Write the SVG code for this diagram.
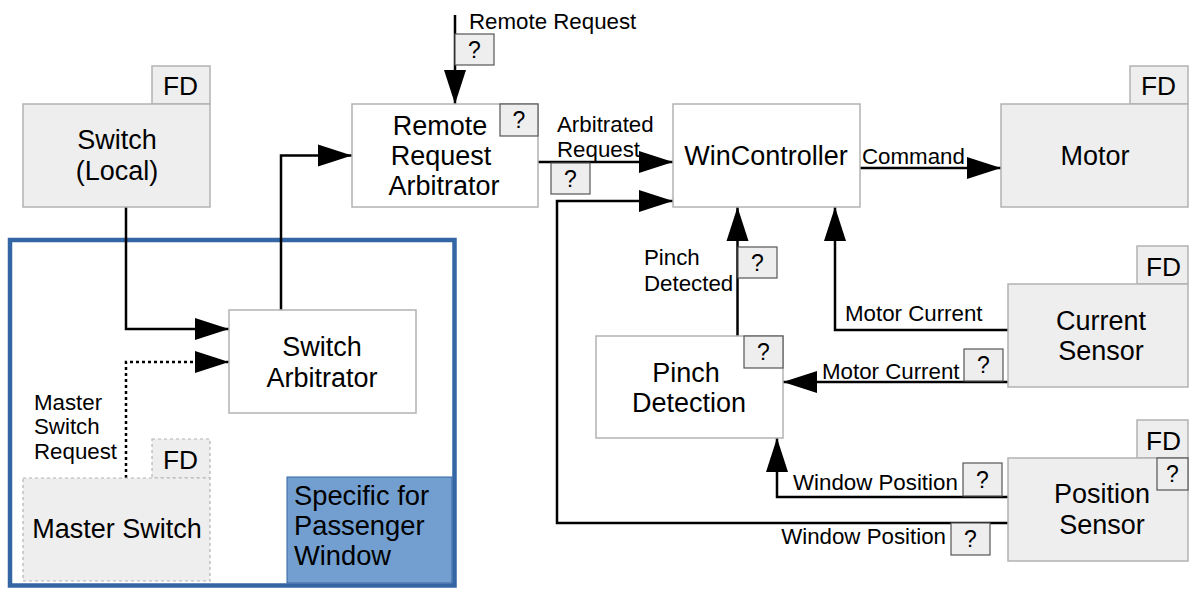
<svg xmlns="http://www.w3.org/2000/svg" width="1190" height="589" viewBox="0 0 1190 589">
  <style>
    text { font-family: "Liberation Sans", Arial, sans-serif; fill: #000; }
    .node { fill: #ffffff; stroke: #b3b3b3; stroke-width: 1.5; }
    .fd { fill: #eeeeee; stroke: #b3b3b3; stroke-width: 1.5; }
    .fd-dash { fill: #eeeeee; stroke: #b3b3b3; stroke-width: 1.2; stroke-dasharray: 3 3; }
    .q { fill: #eeeeee; stroke: #555555; stroke-width: 1.2; }
    .big { font-size: 27px; text-anchor: middle; }
    .tag { font-size: 26.3px; }
    .note { font-size: 27.3px; }
    .qt { font-size: 23px; text-anchor: middle; }
    .lbl { font-size: 22.3px; }
    .wire { fill: none; stroke: #000; stroke-width: 2.5; marker-end: url(#arrow); }
    .dotted { stroke-dasharray: 3 3; }
  </style>
  <defs>
    <marker id="arrow" markerUnits="userSpaceOnUse" markerWidth="34" markerHeight="22" refX="34" refY="11" orient="auto" overflow="visible">
      <path d="M0,0 L34,11 L0,22 Z" fill="#000" stroke="none"/>
    </marker>
  </defs>

  <!-- passenger-window frame -->
  <g id="passenger-frame">
    <rect x="10" y="240" width="444.5" height="345.5" fill="none" stroke="#3465a4" stroke-width="4.5"/>
    <rect x="287" y="477" width="165" height="106" fill="#729fcf" stroke="#3465a4" stroke-width="1"/>
    <text class="note" x="294" y="505">Specific for</text>
    <text class="note" x="294" y="535">Passenger</text>
    <text class="note" x="294" y="565">Window</text>
  </g>

  <!-- connectors -->
  <g id="connectors">
    <path class="wire" d="M126 207 V329 H229"/>
    <path class="wire dotted" d="M126 478 V362 H229"/>
    <path class="wire" d="M281 310 V155.5 H352"/>
    <path class="wire" d="M455 15 V104"/>
    <path class="wire" d="M538 162 H673"/>
    <path class="wire" d="M860 168 H1001"/>
    <path class="wire" d="M737.5 336 V207"/>
    <path class="wire" d="M1008 330 H835 V207"/>
    <path class="wire" d="M1008 382 H783"/>
    <path class="wire" d="M1008 497 H777 V438"/>
    <path class="wire" d="M1008 523 H557 V201 H673"/>

    <text class="lbl" x="469" y="29">Remote Request</text>
    <rect class="q" x="455" y="34" width="39" height="31"/>
    <text class="qt" x="474.5" y="58">?</text>

    <text class="lbl" x="557" y="132">Arbitrated</text>
    <text class="lbl" x="557" y="157">Request</text>
    <rect class="q" x="551" y="163" width="39" height="31"/>
    <text class="qt" x="570.5" y="187">?</text>

    <text class="lbl" x="862" y="164">Command</text>

    <text class="lbl" x="644" y="265">Pinch</text>
    <text class="lbl" x="644" y="291">Detected</text>
    <rect class="q" x="738" y="247" width="39" height="31"/>
    <text class="qt" x="757.5" y="271">?</text>

    <text class="lbl" x="845" y="321">Motor Current</text>

    <text class="lbl" x="822" y="379">Motor Current</text>
    <rect class="q" x="964" y="349" width="39" height="32"/>
    <text class="qt" x="983.5" y="373">?</text>

    <text class="lbl" x="793" y="490">Window Position</text>
    <rect class="q" x="963" y="463" width="39" height="33"/>
    <text class="qt" x="982.5" y="488">?</text>

    <text class="lbl" x="946" y="544" text-anchor="end">Window Position</text>
    <rect class="q" x="951" y="523" width="39" height="32"/>
    <text class="qt" x="970.5" y="547">?</text>

    <text class="lbl" x="34" y="410">Master</text>
    <text class="lbl" x="34" y="434">Switch</text>
    <text class="lbl" x="34" y="459">Request</text>
  </g>

  <!-- nodes -->
  <g id="switch-local">
    <rect class="fd" x="152" y="66" width="58" height="38"/>
    <text class="tag" x="163" y="95">FD</text>
    <rect class="fd" x="23" y="104" width="187" height="103"/>
    <text class="big" x="117" y="149">Switch</text>
    <text class="big" x="117" y="180">(Local)</text>
  </g>

  <g id="switch-arbitrator">
    <rect class="node" x="229" y="310" width="187" height="103"/>
    <text class="big" x="322" y="356">Switch</text>
    <text class="big" x="322" y="387">Arbitrator</text>
  </g>

  <g id="master-switch">
    <rect class="fd-dash" x="152" y="439" width="58" height="39"/>
    <text class="tag" x="163" y="469">FD</text>
    <rect class="fd-dash" x="23" y="478" width="187" height="103"/>
    <text class="big" x="117" y="538">Master Switch</text>
  </g>

  <g id="remote-request-arbitrator">
    <rect class="node" x="352" y="104" width="186" height="103"/>
    <rect class="q" x="500" y="104" width="38" height="32"/>
    <text class="qt" x="519" y="128">?</text>
    <text class="big" x="440" y="135">Remote</text>
    <text class="big" x="441" y="165">Request</text>
    <text class="big" x="444" y="195">Arbitrator</text>
  </g>

  <g id="win-controller">
    <rect class="node" x="673" y="104" width="187" height="103"/>
    <text class="big" x="766" y="165">WinController</text>
  </g>

  <g id="motor">
    <rect class="fd" x="1130" y="66" width="58" height="38"/>
    <text class="tag" x="1141" y="95">FD</text>
    <rect class="fd" x="1001" y="104" width="187" height="103"/>
    <text class="big" x="1095" y="165">Motor</text>
  </g>

  <g id="pinch-detection">
    <rect class="node" x="596" y="336" width="187" height="102"/>
    <rect class="q" x="744" y="336" width="39" height="32"/>
    <text class="qt" x="763.5" y="360">?</text>
    <text class="big" x="686" y="382">Pinch</text>
    <text class="big" x="689" y="412">Detection</text>
  </g>

  <g id="current-sensor">
    <rect class="fd" x="1137" y="246" width="51" height="38"/>
    <text class="tag" x="1146" y="276">FD</text>
    <rect class="fd" x="1008" y="284" width="180" height="103"/>
    <text class="big" x="1101" y="330">Current</text>
    <text class="big" x="1101" y="360">Sensor</text>
  </g>

  <g id="position-sensor">
    <rect class="fd" x="1137" y="420" width="51" height="38"/>
    <text class="tag" x="1146" y="450">FD</text>
    <rect class="fd" x="1008" y="458" width="180" height="103"/>
    <rect class="q" x="1157" y="458" width="31" height="32"/>
    <text class="qt" x="1172.5" y="482">?</text>
    <text class="big" x="1102" y="503">Position</text>
    <text class="big" x="1102" y="534">Sensor</text>
  </g>
</svg>
